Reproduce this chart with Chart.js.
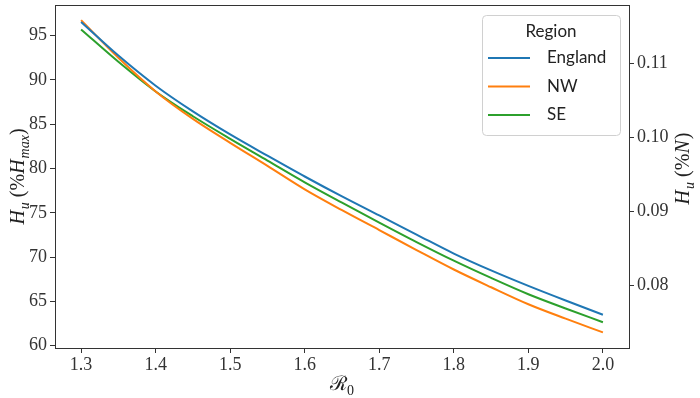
<!DOCTYPE html>
<html>
<head>
<meta charset="utf-8">
<script src="https://cdn.jsdelivr.net/npm/chart.js@4/dist/chart.umd.min.js"></script>
<style>
  html, body { margin: 0; padding: 0; background: #fff; }
</style>
</head>
<body>
<canvas id="hospChart" width="700" height="398"></canvas>
<script>
// values
const r0Values = [1.3, 1.35, 1.4, 1.45, 1.5, 1.55, 1.6, 1.65, 1.7, 1.75, 1.8, 1.85, 1.9, 1.95, 2.0];
const englandValues = [96.55, 92.75, 89.35, 86.45, 83.85, 81.45, 79.1, 76.85, 74.7, 72.55, 70.4, 68.5, 66.75, 65.1, 63.5];
const nwValues = [96.75, 92.5, 88.7, 85.6, 82.9, 80.3, 77.65, 75.3, 73.05, 70.8, 68.6, 66.6, 64.68, 63.05, 61.5];
const seValues = [95.7, 92.05, 88.7, 85.9, 83.35, 80.9, 78.45, 76.15, 73.9, 71.7, 69.6, 67.65, 65.81, 64.2, 62.65];

const regionLabels = ["England", "NW", "SE"];
const regionColors = ["#1f77b4", "#ff7f0e", "#2ca02c"];
const legendTitle = "Region";

const xTicks = [1.3, 1.4, 1.5, 1.6, 1.7, 1.8, 1.9, 2.0];
const leftTicks = [60, 65, 70, 75, 80, 85, 90, 95];
const rightTicks = [0.08, 0.09, 0.1, 0.11];

// Hu in %N when Hu is 1% of Hmax (right axis is a rescaled left axis)
const hmaxShare = 0.0011976;

const xMin = 1.265, xMax = 2.035;
const yMin = 59.74, yMax = 98.46;

const axisColor = "#333";
const tickFont = { family: "Liberation Serif", size: 18 };

const toPoints = (vals) => vals.map((v, i) => ({ x: r0Values[i], y: v }));
const seriesValues = [englandValues, nwValues, seValues];

// draw a run of [text, italic, subscript] pieces starting at x
const setPieceFont = (ctx, italic, sub) => {
  ctx.font = (italic ? "italic " : "") + (sub ? 14 : 20) + "px 'Liberation Serif', 'DejaVu Serif'";
};
const drawPieces = (ctx, pieces, x, y) => {
  pieces.forEach(([text, italic, sub]) => {
    setPieceFont(ctx, italic, sub);
    ctx.fillText(text, x, sub ? y + 5 : y);
    x += ctx.measureText(text).width + (italic && !sub ? 1 : 0);
  });
};
const piecesWidth = (ctx, pieces) => {
  let w = 0;
  pieces.forEach(([text, italic, sub]) => {
    setPieceFont(ctx, italic, sub);
    w += ctx.measureText(text).width + (italic && !sub ? 1 : 0);
  });
  return w;
};

const leftTitle = [["H", true, false], ["u", true, true], [" (%", false, false], ["H", true, false], ["max", true, true], [")", false, false]];
const rightTitle = [["H", true, false], ["u", true, true], [" (%", false, false], ["N", true, false], [")", false, false]];
const xTitle = [["\u211B", false, false], ["0", false, true]];

const framePlugin = {
  id: "frameAndTitles",
  afterDraw(chart) {
    const { ctx, chartArea: a } = chart;
    ctx.save();
    ctx.strokeStyle = axisColor;
    ctx.lineWidth = 1;
    ctx.strokeRect(a.left + 0.5, a.top + 0.5, a.right - a.left, a.bottom - a.top);

    ctx.fillStyle = "#222";
    ctx.textBaseline = "alphabetic";
    ctx.textAlign = "left";
    const midY = (a.top + a.bottom) / 2;

    // left title
    ctx.save();
    ctx.translate(24, midY);
    ctx.rotate(-Math.PI / 2);
    drawPieces(ctx, leftTitle, -piecesWidth(ctx, leftTitle) / 2, 0);
    ctx.restore();

    // right title
    ctx.save();
    ctx.translate(689, midY - 8);
    ctx.rotate(-Math.PI / 2);
    drawPieces(ctx, rightTitle, -piecesWidth(ctx, rightTitle) / 2, 0);
    ctx.restore();

    // x title
    const midX = (a.left + a.right) / 2;
    drawPieces(ctx, xTitle, midX - piecesWidth(ctx, xTitle) / 2, 390);

    // legend
    const bx = 482, by = 15, bw = 138, bh = 120;
    ctx.fillStyle = "rgba(255,255,255,0.8)";
    ctx.strokeStyle = "#d0d0d0";
    ctx.beginPath();
    ctx.roundRect(bx + 0.5, by + 0.5, bw, bh, 4);
    ctx.fill();
    ctx.stroke();
    ctx.fillStyle = "#222";
    ctx.font = "17px Lato";
    ctx.textAlign = "center";
    ctx.textBaseline = "middle";
    ctx.fillText(legendTitle, bx + bw / 2, by + 17);
    ctx.textAlign = "left";
    chart.data.datasets.forEach((ds, i) => {
      const ly = by + 43 + i * 28.5;
      ctx.strokeStyle = ds.borderColor;
      ctx.lineWidth = 2;
      ctx.beginPath();
      ctx.moveTo(488, ly);
      ctx.lineTo(530, ly);
      ctx.stroke();
      ctx.fillStyle = "#222";
      ctx.fillText(ds.label, 547, ly);
    });
    ctx.restore();
  },
};

const setTicks = (list) => (scale) => {
  scale.ticks = list.map((v) => ({ value: v }));
};

new Chart(document.getElementById("hospChart"), {
  type: "line",
  data: {
    datasets: regionLabels.map((label, i) => ({
      label,
      data: toPoints(seriesValues[i]),
      borderColor: regionColors[i],
      borderWidth: 2,
      pointRadius: 0,
      cubicInterpolationMode: "monotone",
      fill: false,
      yAxisID: "y",
    })),
  },
  options: {
    responsive: false,
    animation: false,
    devicePixelRatio: 1,
    layout: { padding: { top: 5, left: 0, right: 0, bottom: 0 } },
    plugins: {
      legend: { display: false },
      tooltip: { enabled: false },
    },
    scales: {
      x: {
        type: "linear",
        min: xMin,
        max: xMax,
        afterBuildTicks: setTicks(xTicks),
        afterFit: (s) => { s.height = 50; s.paddingLeft = 0; s.paddingRight = 0; },
        ticks: { font: tickFont, color: axisColor, padding: 1, maxRotation: 0, autoSkip: false,
          callback: (v) => v.toFixed(1) },
        grid: { drawOnChartArea: false, tickLength: 5, color: axisColor },
        border: { color: axisColor },
      },
      y: {
        position: "left",
        min: yMin,
        max: yMax,
        afterBuildTicks: setTicks(leftTicks),
        afterFit: (s) => { s.width = 55; s.paddingTop = 0; s.paddingBottom = 0; },
        ticks: { font: tickFont, color: axisColor, padding: 3, callback: (v) => String(v) },
        grid: { drawOnChartArea: false, tickLength: 5, color: axisColor },
        border: { color: axisColor },
      },
      y1: {
        position: "right",
        min: yMin * hmaxShare,
        max: yMax * hmaxShare,
        afterBuildTicks: setTicks(rightTicks),
        afterFit: (s) => { s.width = 71; s.paddingTop = 0; s.paddingBottom = 0; },
        ticks: { font: tickFont, color: axisColor, padding: 3, callback: (v) => v.toFixed(2) },
        grid: { drawOnChartArea: false, tickLength: 5, color: axisColor },
        border: { color: axisColor },
      },
    },
  },
  plugins: [framePlugin],
});
</script>
</body>
</html>
